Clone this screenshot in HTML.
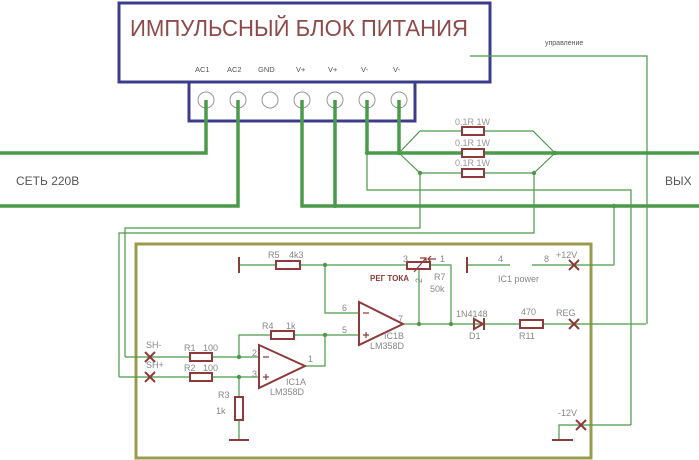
<!DOCTYPE html>
<html><head><meta charset="utf-8"><style>
html,body{margin:0;padding:0;background:#fff;}
svg{display:block;}
text{font-family:"Liberation Sans",sans-serif;}
</style></head><body>
<svg width="699" height="460" viewBox="0 0 699 460" xmlns="http://www.w3.org/2000/svg">
<!-- top box -->
<rect x="119" y="3" width="371" height="79" fill="#fff" stroke="#3c3c8c" stroke-width="3"/>
<text x="130" y="36" font-size="23" fill="#8e4a4a" textLength="338" lengthAdjust="spacingAndGlyphs">ИМПУЛЬСНЫЙ БЛОК ПИТАНИЯ</text>
<g font-size="7.5" fill="#555">
<text x="195" y="72">AC1</text><text x="227" y="72">AC2</text><text x="258" y="72">GND</text>
<text x="296" y="72">V+</text><text x="328" y="72">V+</text><text x="361" y="72">V-</text><text x="393" y="72">V-</text>
</g>
<rect x="189" y="82" width="226" height="39" fill="#fff" stroke="#3c3c8c" stroke-width="3"/>
<g fill="none" stroke="#999" stroke-width="1">
<circle cx="206" cy="100" r="8"/><circle cx="238" cy="100" r="8"/><circle cx="270" cy="100" r="8"/>
<circle cx="302" cy="100" r="8"/><circle cx="335" cy="100" r="8"/><circle cx="367" cy="100" r="8"/><circle cx="399" cy="100" r="8"/>
</g>
<text x="545" y="45" font-size="7" fill="#555">управление</text>
<!-- thick wires -->
<g stroke="#4a9a4a" stroke-width="3.5" fill="none">
<polyline points="206,100 206,153 0,153"/>
<polyline points="238,100 238,206 0,206"/>
<polyline points="302,100 302,206 699,206"/>
<line x1="335" y1="100" x2="335" y2="206"/>
<polyline points="367,100 367,153"/>
<polyline points="399,100 399,153"/>
<line x1="367" y1="153" x2="699" y2="153"/>
</g>
<!-- thin wires -->
<g stroke="#4a9a4a" stroke-width="1.2" fill="none">
<polyline points="399,153 420,131 533,131 555,153"/>
<polyline points="399,153 420,173 534,173 555,153"/>
<polyline points="470,56 647,56 647,324"/>
<polyline points="367,153 367,190 631,190 631,425"/>
<line x1="614" y1="206" x2="614" y2="265"/>
<polyline points="420,173 420,228 125,228 125,357"/>
<polyline points="534,173 534,233 119,233 119,377"/>
</g>
<g fill="#4a9a4a">
<circle cx="367" cy="153" r="2.2"/><circle cx="399" cy="153" r="2.2"/><circle cx="555" cy="153" r="2.2"/>
<circle cx="420" cy="173" r="2.2"/><circle cx="534" cy="173" r="2.2"/><circle cx="614" cy="206" r="2.2"/><circle cx="335" cy="206" r="2"/>
</g>
<g fill="#fff" stroke="#8e3a3a" stroke-width="2">
<rect x="462" y="127" width="22" height="8"/><rect x="462" y="149" width="22" height="8"/><rect x="462" y="169" width="22" height="8"/>
</g>
<g font-size="9" fill="#999">
<text x="455" y="125">0.1R 1W</text><text x="455" y="146">0.1R 1W</text><text x="455" y="166">0.1R 1W</text>
</g>
<text x="16" y="185" font-size="12" fill="#555">СЕТЬ 220В</text>
<text x="665" y="185" font-size="12" fill="#555">ВЫХ</text>
<!-- green box -->
<rect x="136" y="244" width="455" height="214" fill="none" stroke="#9b9b4e" stroke-width="3"/>
<!-- inner wires -->
<g stroke="#4a9a4a" stroke-width="1.2" fill="none">
<line x1="239" y1="265" x2="407" y2="265"/>
<polyline points="430,265 451,265 451,324"/>
<polyline points="325,265 325,313 359,313"/>
<line x1="419" y1="270" x2="419" y2="324"/>
<line x1="403" y1="324" x2="646" y2="324"/>
<line x1="467" y1="265" x2="510" y2="265"/>
<line x1="532" y1="265" x2="614" y2="265"/>
<polyline points="305,366 325,366 325,335 359,335"/>
<polyline points="239,357 239,335 325,335"/>
<line x1="125" y1="357" x2="259" y2="357"/>
<line x1="119" y1="377" x2="259" y2="377"/>
<line x1="239" y1="377" x2="239" y2="440"/>
<polyline points="631,425 559,425 559,440"/>
</g>
<g fill="#4a9a4a">
<circle cx="325" cy="265" r="2.2"/><circle cx="419" cy="324" r="2.2"/><circle cx="451" cy="324" r="2.2"/>
<circle cx="325" cy="335" r="2.2"/><circle cx="239" cy="357" r="2.2"/><circle cx="239" cy="377" r="2.2"/>
</g>
<!-- components -->
<g stroke="#8e3a3a" stroke-width="2" fill="#fff">
<line x1="239" y1="257" x2="239" y2="273"/>
<line x1="467" y1="257" x2="467" y2="273"/>
<line x1="229" y1="440" x2="249" y2="440"/>
<line x1="552" y1="440" x2="573" y2="440"/>
<rect x="276" y="261" width="24" height="8"/>
<rect x="407" y="262" width="23" height="7"/>
<rect x="271" y="331" width="23" height="8"/>
<rect x="190" y="353" width="22" height="8"/>
<rect x="190" y="373" width="22" height="8"/>
<rect x="235" y="397" width="8" height="23"/>
<rect x="520" y="320" width="23" height="8"/>
<polygon points="359,302 359,345 403,324" fill="none"/>
<polygon points="259,345 259,388 305,366" fill="none"/>
<polygon points="474,319 474,329 483,324" fill="none"/>
<line x1="484" y1="318" x2="484" y2="330"/>
<path d="M145,352 l10,10 M155,352 l-10,10 M145,372 l10,10 M155,372 l-10,10 M569,260 l10,10 M579,260 l-10,10 M569,319 l10,10 M579,319 l-10,10 M576,420 l10,10 M586,420 l-10,10" fill="none"/>
<path d="M414,272 L426,258 M420,258 l6,0 l0,5" fill="none" stroke-width="1.2"/>
<path d="M436,259 l-8,0 m3,-3 l-3,3 l3,3" fill="none" stroke-width="1.2"/>
<path d="M363,313 h6 M363,335 h6 M366,332 v6 M263,357 h6 M263,377 h6 M266,374 v6" fill="none" stroke-width="1.2"/>
</g>
<g font-size="9" fill="#888">
<text x="268" y="258">R5</text><text x="289" y="258">4k3</text>
<text x="403" y="262">3</text><text x="440" y="262">1</text>
<text x="434" y="280">R7</text><text x="430" y="292">50k</text>
<text x="422" y="283" transform="rotate(-90 422 283)">2</text>
<text x="498" y="262">4</text><text x="544" y="262">8</text><text x="556" y="258">+12V</text>
<text x="498" y="282">IC1 power</text>
<text x="456" y="317">1N4148</text><text x="469" y="339">D1</text>
<text x="521" y="315">470</text><text x="519" y="339">R11</text>
<text x="556" y="316">REG</text>
<text x="262" y="329">R4</text><text x="286" y="329">1k</text>
<text x="342" y="311">6</text><text x="342" y="333">5</text><text x="398" y="322">7</text>
<text x="384" y="339">IC1B</text><text x="370" y="349">LM358D</text>
<text x="146" y="348">SH-</text><text x="146" y="368">SH+</text>
<text x="184" y="351">R1</text><text x="203" y="351">100</text>
<text x="184" y="371">R2</text><text x="203" y="371">100</text>
<text x="252" y="356">2</text><text x="252" y="377">3</text><text x="308" y="362">1</text>
<text x="286" y="385">IC1A</text><text x="270" y="395">LM358D</text>
<text x="218" y="398">R3</text><text x="216" y="414">1k</text>
<text x="558" y="416">-12V</text>
</g>
<text x="370" y="281" font-size="8" font-weight="bold" fill="#8e3a3a">РЕГ ТОКА</text>
</svg>
</body></html>
